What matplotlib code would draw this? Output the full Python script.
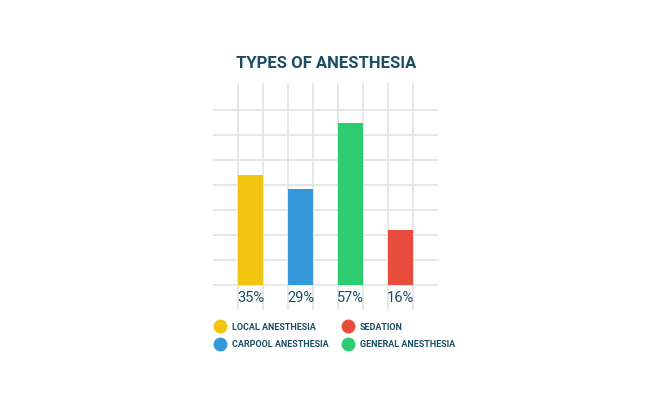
import matplotlib.pyplot as plt
from matplotlib.lines import Line2D

categories = ['LOCAL ANESTHESIA', 'CARPOOL ANESTHESIA', 'GENERAL ANESTHESIA', 'SEDATION']
percent_labels = ['35%', '29%', '57%', '16%']
bar_heights = [44, 38.4, 64.7, 22]   # as drawn, in grid units of 10
colors = ['#f1c40f', '#3498db', '#2ecc71', '#e74c3c']
legend_order = [0, 1, 3, 2]

text_color = '#1c4e63'
grid_color = '#e3e3e3'

fig = plt.figure(figsize=(6.5, 3.97), dpi=100)
W, H = 650, 397
ax = fig.add_axes([213 / W, (H - 310) / H, 225 / W, 227 / H])
ax.set_xlim(0, 9)
ax.set_ylim(-10, 80.8)
ax.axis('off')

# grid
ax.hlines(range(0, 80, 10), 0, 9, color=grid_color, lw=1.2, zorder=1)
ax.vlines(range(1, 9), -10, 80.8, color=grid_color, lw=1.2, zorder=1)

xs = [1.5, 3.5, 5.5, 7.5]
ax.bar(xs, bar_heights, width=1.0, color=colors, zorder=2)

for x, lab in zip(xs, percent_labels):
    ax.text(x, -5, lab, ha='center', va='center', fontsize=10.5,
            color=text_color, family='Roboto')

fig.text(326 / W, 1 - 63 / H, 'TYPES OF ANESTHESIA', ha='center', va='center',
         fontsize=12, color=text_color, fontweight='bold', family='Roboto')

handles = [Line2D([], [], ls='none', marker='o', markersize=10,
                  markerfacecolor=colors[i], markeredgecolor='none')
           for i in legend_order]
labels = [categories[i] for i in legend_order]
leg = fig.legend(handles, labels, ncol=2, loc='upper left',
                 bbox_to_anchor=(211 / W, 1 - 319 / H), frameon=False,
                 handletextpad=0.8, columnspacing=1.6, labelspacing=0.9,
                 handlelength=1.1, borderaxespad=0,
                 prop={'family': 'Roboto', 'weight': 'bold', 'size': 6.5})
for t in leg.get_texts():
    t.set_color(text_color)

fig.savefig('out.png', dpi=100, facecolor='white')
